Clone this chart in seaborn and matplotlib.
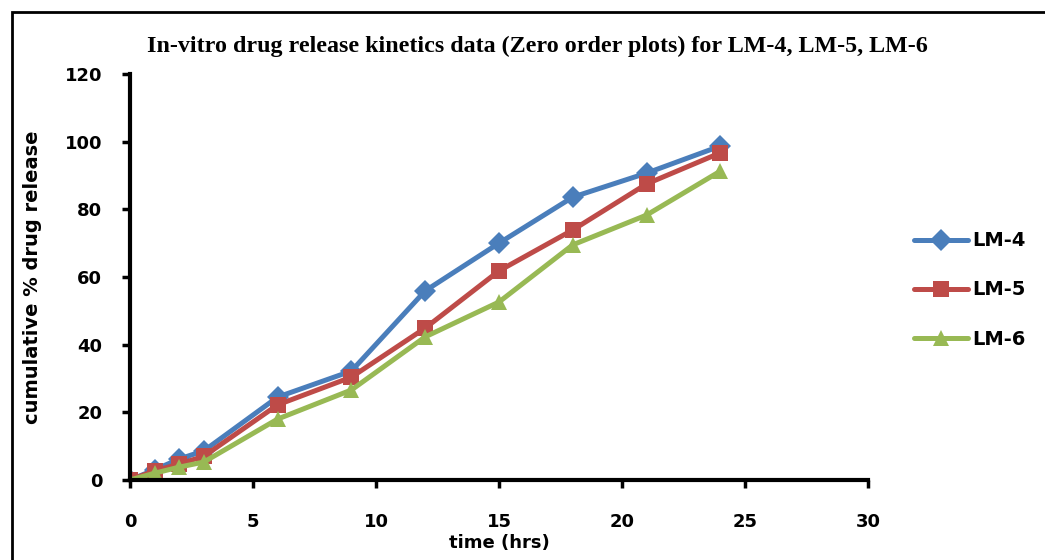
import matplotlib
matplotlib.use("Agg")
import matplotlib.pyplot as plt
import seaborn as sns
import pandas as pd
from matplotlib.patches import Rectangle

time_hrs = [0, 1, 2, 3, 6, 9, 12, 15, 18, 21, 24]
lm4 = [0, 3.0, 6.2, 8.6, 24.5, 32.2, 55.9, 70.0, 83.6, 90.7, 98.7]
lm5 = [0, 2.7, 4.7, 7.0, 22.2, 30.4, 44.9, 61.8, 73.9, 87.5, 96.7]
lm6 = [0, 2.0, 3.8, 5.3, 18.0, 26.6, 42.3, 52.6, 69.5, 78.3, 91.3]
series_names = ["LM-4", "LM-5", "LM-6"]
colors = ["#4A7EBB", "#BE4B48", "#98B954"]
markers = ["D", "s", "^"]
x_ticks = [0, 5, 10, 15, 20, 25, 30]
y_ticks = [0, 20, 40, 60, 80, 100, 120]

df = pd.DataFrame({
    "time": time_hrs * 3,
    "release": lm4 + lm5 + lm6,
    "series": sum([[n] * len(time_hrs) for n in series_names], []),
})

sns.set_style("white")
plt.rcParams["font.family"] = ["DejaVu Sans"]
plt.rcParams["text.color"] = "black"

fig = plt.figure(figsize=(10.45, 5.6), dpi=100)
ax = fig.add_axes([0.1244, 0.1429, 0.8306 - 0.1244, 0.8679 - 0.1429])

sns.lineplot(data=df, x="time", y="release", hue="series", style="series",
             palette=colors, markers=markers, dashes=False, linewidth=3.6,
             markersize=11.5, markeredgewidth=0, ax=ax, legend=True)

ax.set_xlim(0, 30)
ax.set_ylim(0, 120)
ax.set_xticks(x_ticks)
ax.set_yticks(y_ticks)
ax.set_xticklabels([str(t) for t in x_ticks], fontsize=13, fontweight="bold", color="black")
ax.set_yticklabels([str(t) for t in y_ticks], fontsize=13, fontweight="bold", color="black")
for s in ["top", "right"]:
    ax.spines[s].set_visible(False)
for s in ["left", "bottom"]:
    ax.spines[s].set_linewidth(3)
    ax.spines[s].set_color("black")
ax.tick_params(axis="both", which="major", direction="out", length=6, width=2.5,
               color="black", left=True, bottom=True)
ax.tick_params(axis="x", pad=18)
ax.tick_params(axis="y", pad=14)
ax.set_xlabel("time (hrs)", fontsize=13, fontweight="bold", labelpad=2, color="black")
ax.set_ylabel("cumulative % drug release", fontsize=14, fontweight="bold", labelpad=16, color="black")
ax.grid(False)

fig.text(0.514, 0.918, "In-vitro drug release kinetics data (Zero order plots) for LM-4, LM-5, LM-6",
         ha="center", va="center", fontsize=17.3, fontweight="bold", family="Liberation Serif",
         color="black")

handles, labels = ax.get_legend_handles_labels()
leg = ax.legend(handles, labels, loc="center left",
                frameon=False, prop={"weight": "bold", "size": 14}, handlelength=2.8,
                labelspacing=1.55, handletextpad=0.2, borderaxespad=0, borderpad=0)
leg.set_bbox_to_anchor((1.062, 0.468), transform=ax.transAxes)
for t in leg.get_texts():
    t.set_color("black")

fig.patches.append(Rectangle((12 / 1045, -0.05), 1.2, 1 - 12 / 560 + 0.05, transform=fig.transFigure,
                             fill=False, edgecolor="black", linewidth=2, figure=fig))

fig.savefig("out.png", dpi=100)
